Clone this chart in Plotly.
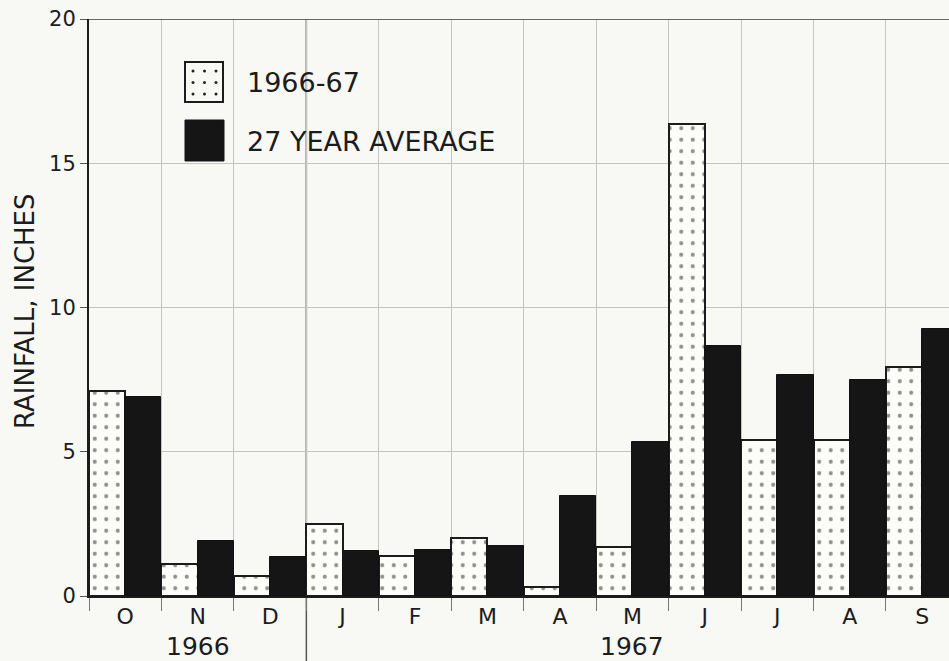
import plotly.graph_objects as go

# Monthly rainfall, October 1966 - September 1967, with long-term average
months = ["Oct", "Nov", "Dec", "Jan", "Feb", "Mar", "Apr", "May", "Jun", "Jul", "Aug", "Sep"]
month_letters = ["O", "N", "D", "J", "F", "M", "A", "M", "J", "J", "A", "S"]
rain_1966_67 = [7.1, 1.1, 0.7, 2.5, 1.4, 2.0, 0.3, 1.7, 16.35, 5.4, 5.4, 7.95]
rain_27yr_avg = [6.9, 1.9, 1.35, 1.55, 1.6, 1.75, 3.45, 5.35, 8.65, 7.65, 7.5, 9.25]
year_groups = [("1966", 0, 2), ("1967", 3, 11)]
series_names = ["1966-67", "27 YEAR AVERAGE"]

INK = "#1c1c1c"
GRID = "#c4c4c2"
PAPER = "#f8f8f5"
FONT = "DejaVu Sans"

# plot-area pixel frame
L, R, T, B = 89, 949, 19, 596
W_PX, H_PX = 949, 661

fig = go.Figure()

fig.add_trace(go.Bar(
    x=months, y=rain_1966_67, name=series_names[0],
    marker=dict(
        color="#fcfcf9",
        line=dict(color=INK, width=2),
        pattern=dict(shape=".", fgcolor="#222", bgcolor="#fcfcf9", size=11.5, solidity=0.1),
    ),
    showlegend=False, hoverinfo="x+y",
))
fig.add_trace(go.Bar(
    x=months, y=rain_27yr_avg, name=series_names[1],
    marker=dict(color="#151515", line=dict(color="#111", width=1)),
    showlegend=False, hoverinfo="x+y",
))

# overlay axes in pixel units for the hand-drawn key
key_dots_x = [193, 204.5, 216]
key_dots_y = [71, 82.5, 94]
fig.add_trace(go.Scatter(
    x=[dx for dy in key_dots_y for dx in key_dots_x],
    y=[dy for dy in key_dots_y for dx in key_dots_x],
    mode="markers", marker=dict(size=3, color="#222"),
    xaxis="x2", yaxis="y2", showlegend=False, hoverinfo="skip",
))

shapes = [
    # key swatches
    dict(type="rect", xref="x2", yref="y2", x0=185, x1=223, y0=62, y1=102,
         line=dict(color=INK, width=2), fillcolor="rgba(0,0,0,0)", layer="below"),
    dict(type="rect", xref="x2", yref="y2", x0=185, x1=224, y0=120, y1=161,
         line=dict(color="#151515", width=1), fillcolor="#151515"),
    # top frame line at 20
    dict(type="line", xref="paper", yref="y", x0=0, x1=1, y0=20, y1=20,
         line=dict(color="#3a3a3a", width=1.5)),
    # year divider between December and January
    dict(type="line", xref="x", yref="paper", x0=2.5, x1=2.5, y0=(B - H_PX) / (B - T), y1=1,
         line=dict(color="#555", width=1.5), layer="below"),
]

annotations = [
    dict(text=series_names[0], xref="x2", yref="y2", x=245, y=82, xanchor="left", yanchor="middle",
         showarrow=False, font=dict(family=FONT, size=27, color=INK)),
    dict(text=series_names[1], xref="x2", yref="y2", x=245, y=141, xanchor="left", yanchor="middle",
         showarrow=False, font=dict(family=FONT, size=27, color=INK)),
    dict(text="RAINFALL, INCHES", xref="paper", yref="paper", x=(25 - L) / (R - L), y=(B - 311) / (B - T),
         textangle=-90, xanchor="center", yanchor="middle", showarrow=False,
         font=dict(family=FONT, size=26, color=INK)),
]
for label, i0, i1 in year_groups:
    annotations.append(dict(
        text=label, xref="x", yref="paper", x=(i0 + i1) / 2, y=(B - 646) / (B - T),
        xanchor="center", yanchor="middle", showarrow=False,
        font=dict(family=FONT, size=25, color=INK),
    ))

fig.update_layout(
    width=W_PX, height=H_PX,
    margin=dict(l=L, r=W_PX - R, t=T, b=H_PX - B, pad=0),
    paper_bgcolor=PAPER, plot_bgcolor=PAPER,
    barmode="group", bargap=0, bargroupgap=0,
    font=dict(family=FONT, color=INK),
    xaxis=dict(
        type="category", range=[-0.5, 11.37], fixedrange=True,
        tickmode="array", tickvals=months, ticktext=month_letters,
        tickson="boundaries", ticks="outside", ticklen=13, tickcolor="#777", tickwidth=1.2,
        showgrid=True, gridcolor=GRID, gridwidth=1.3,
        showline=True, linecolor=INK, linewidth=2,
        tickfont=dict(family=FONT, size=22, color=INK),
    ),
    yaxis=dict(
        range=[0, 20], fixedrange=True, tickvals=[0, 5, 10, 15, 20],
        ticks="outside", ticklen=7, tickcolor="#555", tickwidth=1.2,
        showgrid=True, gridcolor=GRID, gridwidth=1.3, zeroline=False,
        showline=True, linecolor=INK, linewidth=2,
        tickfont=dict(family=FONT, size=21, color=INK),
    ),
    xaxis2=dict(range=[L, R], overlaying="x", visible=False, fixedrange=True),
    yaxis2=dict(range=[B, T], overlaying="y", visible=False, fixedrange=True),
    shapes=shapes,
    annotations=annotations,
)

fig.write_html("out.html")
